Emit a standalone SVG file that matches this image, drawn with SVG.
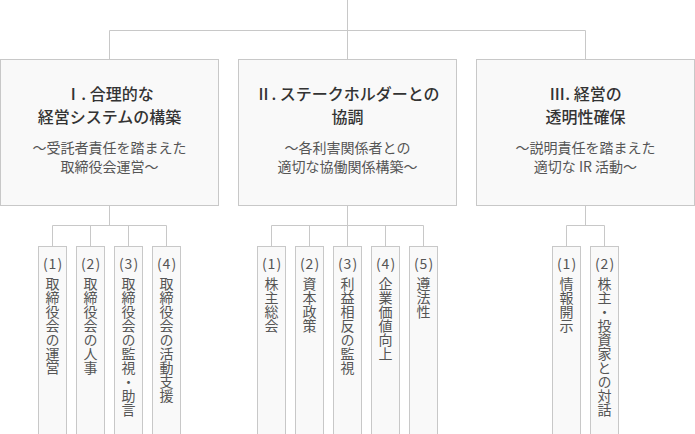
<svg xmlns="http://www.w3.org/2000/svg" width="695" height="434" viewBox="0 0 695 434">
<style>
.box{fill:#f9f9f9;stroke:#c8c8c8;stroke-width:1}
.ln{fill:none;stroke:#c8c8c8;stroke-width:1}
.t{font-family:"Noto Sans CJK JP","Noto Sans",sans-serif;font-size:16px;font-weight:500;fill:#333;text-anchor:middle}
.s{font-family:"Noto Sans CJK JP","Noto Sans",sans-serif;font-size:14px;fill:#555;text-anchor:middle}
.n{font-family:"Noto Sans CJK JP","Noto Sans",sans-serif;font-size:14px;fill:#555;text-anchor:middle;letter-spacing:1px}
.v{font-family:"Noto Sans CJK JP","Noto Sans",sans-serif;font-size:14px;fill:#555;writing-mode:vertical-rl;text-anchor:start}
</style>
<rect width="695" height="434" fill="#fff"/>
<g id="connectors">
<path class="ln" d="M347.5 0V30.5M109.5 59.5V30.5H585.5V59.5M347.5 30.5V59.5"/>
<path class="ln" d="M109.5 205.5V225.5M52.5 246.5V225.5H166.5V246.5M90.5 225.5V246.5M128.5 225.5V246.5"/>
<path class="ln" d="M347.5 205.5V246.5M271.5 246.5V225.5H423.5V246.5M309.5 225.5V246.5M385.5 225.5V246.5"/>
<path class="ln" d="M585.5 205.5V225.5M566.5 246.5V225.5H604.5V246.5"/>
</g>
<g id="n1">
<rect class="box" x="0.5" y="59.5" width="218" height="146"/>
<text class="t"><tspan x="109.5" y="99.6">Ⅰ. 合理的な</tspan><tspan x="109.5" y="123">経営システムの構築</tspan></text>
<text class="s"><tspan x="109.5" y="153">～受託者責任を踏まえた</tspan><tspan x="109.5" y="172">取締役会運営～</tspan></text>
</g>
<g id="n2">
<rect class="box" x="238.5" y="59.5" width="218" height="146"/>
<text class="t"><tspan x="347.5" y="99.6">Ⅱ. ステークホルダーとの</tspan><tspan x="347.5" y="123">協調</tspan></text>
<text class="s"><tspan x="347.5" y="153">～各利害関係者との</tspan><tspan x="347.5" y="172">適切な協働関係構築～</tspan></text>
</g>
<g id="n3">
<rect class="box" x="476.5" y="59.5" width="218" height="146"/>
<text class="t"><tspan x="585.5" y="99.6">Ⅲ. 経営の</tspan><tspan x="585.5" y="123">透明性確保</tspan></text>
<text class="s"><tspan x="585.5" y="153">～説明責任を踏まえた</tspan><tspan x="585.5" y="172">適切な IR 活動～</tspan></text>
</g>
<g id="n1-1"><rect class="box" x="38.5" y="246.5" width="28" height="190"/><text class="n" x="53" y="269">(1)</text><text class="v" x="52.5" y="277">取締役会の運営</text></g>
<g id="n1-2"><rect class="box" x="76.5" y="246.5" width="28" height="190"/><text class="n" x="91" y="269">(2)</text><text class="v" x="90.5" y="277">取締役会の人事</text></g>
<g id="n1-3"><rect class="box" x="114.5" y="246.5" width="28" height="190"/><text class="n" x="129" y="269">(3)</text><text class="v" x="128.5" y="277">取締役会の監視・助言</text></g>
<g id="n1-4"><rect class="box" x="152.5" y="246.5" width="28" height="190"/><text class="n" x="167" y="269">(4)</text><text class="v" x="166.5" y="277">取締役会の活動支援</text></g>
<g id="n2-1"><rect class="box" x="257.5" y="246.5" width="28" height="190"/><text class="n" x="272" y="269">(1)</text><text class="v" x="271.5" y="277">株主総会</text></g>
<g id="n2-2"><rect class="box" x="295.5" y="246.5" width="28" height="190"/><text class="n" x="310" y="269">(2)</text><text class="v" x="309.5" y="277">資本政策</text></g>
<g id="n2-3"><rect class="box" x="333.5" y="246.5" width="28" height="190"/><text class="n" x="348" y="269">(3)</text><text class="v" x="347.5" y="277">利益相反の監視</text></g>
<g id="n2-4"><rect class="box" x="371.5" y="246.5" width="28" height="190"/><text class="n" x="386" y="269">(4)</text><text class="v" x="385.5" y="277">企業価値向上</text></g>
<g id="n2-5"><rect class="box" x="409.5" y="246.5" width="28" height="190"/><text class="n" x="424" y="269">(5)</text><text class="v" x="423.5" y="277">遵法性</text></g>
<g id="n3-1"><rect class="box" x="552.5" y="246.5" width="28" height="190"/><text class="n" x="567" y="269">(1)</text><text class="v" x="566.5" y="277">情報開示</text></g>
<g id="n3-2"><rect class="box" x="590.5" y="246.5" width="28" height="190"/><text class="n" x="605" y="269">(2)</text><text class="v" x="604.5" y="277">株主・投資家との対話</text></g>
</svg>
